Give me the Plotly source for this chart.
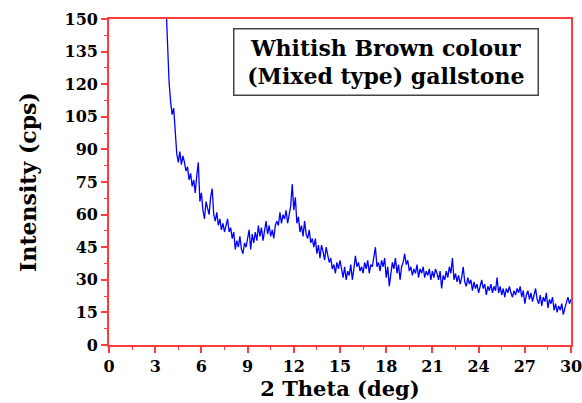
import plotly.graph_objects as go

x_start = 3.6
x_step = 0.1
intensity = [
    175, 155, 136, 121, 112, 106, 109, 98, 88, 84,
    89, 83, 87, 84, 80, 82, 76, 79, 73, 76,
    70, 78, 84, 66, 70, 62, 58, 66, 63, 60,
    68, 72, 60, 57, 61, 55, 58, 53, 56, 52,
    55, 58, 52, 54, 49, 52, 44, 48, 45, 50,
    44, 42, 47, 45, 49, 53, 44, 51, 47, 52,
    48, 55, 50, 54, 48, 53, 57, 51, 55, 50,
    53, 49, 55, 57, 55, 61, 56, 60, 58, 62,
    56, 60, 64, 74, 62, 68, 56, 59, 52, 55,
    50, 57, 51, 49, 53, 47, 49, 45, 49, 42,
    46, 40, 46, 43, 39, 45, 41, 38, 40, 35,
    37, 33, 38, 35, 39, 34, 31, 36, 30, 34,
    32, 37, 30, 35, 41, 36, 38, 34, 36, 33,
    38, 35, 39, 33, 37, 36, 40, 45, 36, 38,
    34, 39, 36, 40, 31, 36, 27, 34, 38, 35,
    40, 33, 37, 30, 36, 38, 42, 37, 39, 34,
    36, 32, 35, 33, 37, 31, 35, 33, 36, 31,
    34, 32, 35, 30, 34, 31, 35, 33, 30, 34,
    26, 32, 30, 34, 31, 36, 33, 40, 30, 33,
    29, 32, 28, 31, 36, 29, 27, 31, 28, 30,
    25, 29, 26, 28, 24, 27, 30, 26, 28, 23,
    27, 25, 28, 24, 27, 25, 31, 24, 27, 23,
    26, 22, 26, 24, 27, 24, 22, 25, 23, 26,
    24, 27, 22, 25, 19, 23, 25, 21, 24, 20,
    23, 26, 21, 19, 23, 18, 22, 20, 24, 17,
    21, 19, 22, 16, 19, 15, 18, 16, 19, 14,
    17, 20, 22, 19, 21,
]
two_theta = [round(x_start + x_step * i, 2) for i in range(len(intensity))]

x_ticks = [0, 3, 6, 9, 12, 15, 18, 21, 24, 27, 30]
y_ticks = [0, 15, 30, 45, 60, 75, 90, 105, 120, 135, 150]
label_lines = ["Whitish Brown colour", "(Mixed type) gallstone"]

red = "#ff3b3b"
font_family = "DejaVu Serif"

fig = go.Figure()
fig.add_trace(go.Scatter(
    x=two_theta, y=intensity, mode="lines",
    line=dict(color="#0000ff", width=1.3),
    showlegend=False, hoverinfo="skip", cliponaxis=True,
))

axis_common = dict(
    showline=True, linecolor=red, linewidth=1.6, mirror=True,
    ticks="outside", tickcolor=red, ticklen=6, tickwidth=1.5,
    showgrid=False, zeroline=False, automargin=False,
    ticklabeloverflow="allow",
    tickfont=dict(family=font_family, size=16, color="black", weight="bold"),
    minor=dict(ticks="outside", ticklen=3, tickcolor=red, tickwidth=1.2),
)

fig.update_xaxes(
    range=[0, 30], tickvals=x_ticks, ticktext=[str(v) for v in x_ticks],
    title=dict(text="<b>2 Theta (deg)</b>", font=dict(family=font_family, size=21, color="black"), standoff=6),
    **axis_common,
)
fig.update_xaxes(minor=dict(tickvals=[v + 1.5 for v in x_ticks[:-1]]))
fig.update_yaxes(
    range=[0, 150], tickvals=y_ticks, ticktext=[str(v) for v in y_ticks],
    title=dict(text="<b>Intensity (cps)</b>", font=dict(family=font_family, size=22, color="black"), standoff=22),
    **axis_common,
)
fig.update_yaxes(minor=dict(tickvals=[v + 7.5 for v in y_ticks[:-1]]))

fig.add_annotation(
    xref="paper", yref="paper", x=0.6, y=0.868, xanchor="center", yanchor="middle",
    text="<b>&nbsp;" + "&nbsp;<br>&nbsp;".join(label_lines) + "&nbsp;</b>",
    showarrow=False, align="center",
    font=dict(family=font_family, size=22, color="black"),
    bordercolor="#444444", borderwidth=1.5, borderpad=5, bgcolor="white",
)

fig.update_layout(
    width=582, height=403,
    margin=dict(l=109, r=11, t=19, b=58),
    paper_bgcolor="white", plot_bgcolor="white",
)

fig.write_html(
    "out.html",
    config={"displayModeBar": False},
    post_script="document.body.style.margin='0';document.body.style.overflow='hidden';",
)
